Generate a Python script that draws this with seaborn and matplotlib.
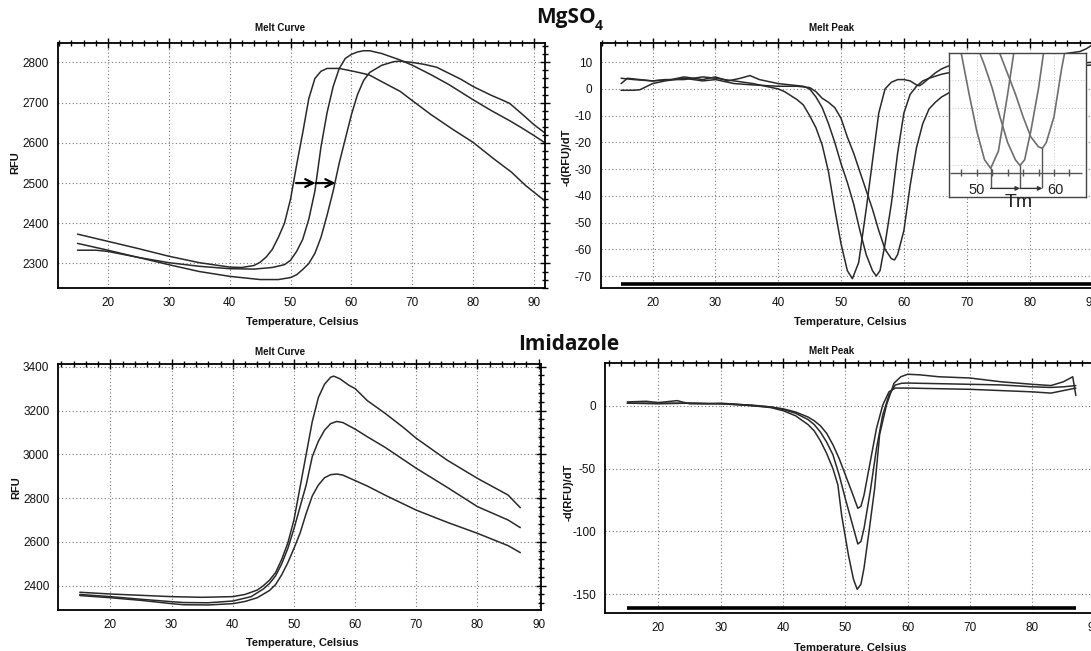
import numpy as np
import seaborn as sns
import matplotlib.pyplot as plt
from matplotlib import font_manager
from matplotlib.ticker import MultipleLocator

# ---- MgSO4 melt curve (RFU vs temperature) ----
mg_t_a = [15, 20, 25, 30, 35, 40, 42, 44, 45, 46, 47, 48, 49, 50, 51, 52, 53, 54, 55, 56, 58,
          60.6, 62.9, 65, 68, 70, 73, 76.6, 80, 83.4, 86.3, 88.6, 92]
mg_rfu_a = [2373, 2355, 2337, 2318, 2302, 2291, 2290, 2295, 2303, 2316, 2335, 2365, 2400, 2460,
            2545, 2625, 2710, 2760, 2778, 2785, 2785, 2777, 2769, 2752, 2728, 2705, 2671, 2634,
            2601, 2560, 2527, 2494, 2453]
mg_t_b = [15, 18, 20, 25, 30, 35, 40, 44, 47, 49, 50, 51, 52, 53, 54, 55, 56, 57, 58, 59, 60,
          61, 62, 63, 65, 68, 70, 73, 76, 80, 83, 86, 88, 90, 92]
mg_rfu_b = [2333, 2333, 2330, 2315, 2302, 2293, 2287, 2286, 2290, 2297, 2308, 2330, 2360, 2410,
            2480, 2590, 2675, 2740, 2785, 2810, 2820, 2826, 2829, 2829, 2822, 2806, 2793, 2770,
            2745, 2707, 2680, 2655, 2637, 2618, 2598]
mg_t_c = [15, 20, 25, 30, 35, 40, 45, 48, 50, 51, 52, 53, 54, 55, 56, 57, 58, 59, 60, 61, 62, 63,
          65, 67, 68, 70, 72, 74, 76, 78, 80, 83, 85, 86, 88, 90, 92]
mg_rfu_c = [2350, 2333, 2315, 2297, 2280, 2268, 2260, 2260, 2265, 2272, 2285, 2300, 2325, 2365,
            2420, 2480, 2550, 2610, 2670, 2720, 2755, 2775, 2793, 2802, 2803, 2800, 2795, 2788,
            2773, 2758, 2740, 2718, 2705, 2698, 2672, 2645, 2622]
mg_arrow_t = [50.9, 54.1, 57.4]
mg_arrow_rfu = 2500

# ---- MgSO4 melt peak (-d(RFU)/dT) ----
pk_t_a = [15, 16, 18, 20, 22, 25, 28, 30, 33, 36, 38, 40, 41, 42, 43, 44, 45, 46, 47, 48, 49, 50,
          51, 51.8, 52.8, 54, 55, 56, 57, 58, 59, 60, 61, 62, 62.5, 63, 64, 65, 66, 67, 68, 70,
          75, 80, 85, 88, 89, 90, 91, 92]
pk_v_a = [2, 4, 3.5, 3, 3.5, 3.5, 4.5, 4, 3, 2, 1, 0, -1, -2.5, -4, -6, -10, -14.5, -21, -31, -45,
          -58, -68, -71, -65, -45, -27, -9, 0, 2.5, 3.5, 3.5, 3, 1.5, 1.2, 2, 4, 6, 7.5, 8.5, 9,
          10, 11, 12, 13, 14, 15, 16.5, 15.5, 14]
pk_t_b = [15, 17, 20, 23, 25, 28, 30, 32, 34, 35.5, 37, 40, 42, 44, 45, 46, 47, 48, 49, 50, 51,
          52, 53, 54, 55, 55.6, 56.2, 57, 58, 59, 60, 61, 62, 63, 64, 66, 67, 70, 75, 80, 85, 90, 92]
pk_v_b = [4, 3.5, 3, 3.5, 4.5, 3.5, 4.5, 3, 4, 5, 3.5, 2, 1.5, 1, 0, -3, -7, -13, -20, -28, -35,
          -43, -53, -62, -68, -70, -68, -58, -43, -24, -9, -2, 1, 3, 4, 5.5, 6, 6.5, 7, 8, 9, 10, 10]
pk_t_c = [15, 17, 18, 20, 22, 25, 28, 30, 33, 36, 40, 43, 45, 46, 47, 48, 49, 50, 51, 52, 53, 54,
          55, 56, 57, 58, 58.5, 59, 60, 61, 62, 63, 64, 65, 66, 67, 68, 70, 75, 80, 85, 90, 92]
pk_v_c = [-0.5, -0.5, -0.3, 2, 3, 4, 3, 3.5, 2, 1.5, 1, 1, 0.5, -1, -3.5, -5, -7, -11, -18, -24,
          -31, -38, -45, -53, -60, -63.5, -64, -62, -53, -36, -22, -13, -7.5, -5, -3, -1.7, 0, 2,
          5, 7, 8, 9, 9]
pk_threshold = -73.1

# ---- Imidazole melt curve (RFU) ----
im_t_a = [15, 20, 25, 30, 35, 40, 42, 44, 45, 46, 47, 48, 49, 50, 51, 52, 53, 54, 55, 56, 56.5,
          57.5, 59, 60, 62, 65, 68, 70, 75, 80, 85, 87]
im_rfu_a = [2370, 2362, 2356, 2350, 2347, 2350, 2360, 2380, 2400, 2425, 2460, 2520, 2595, 2700,
            2850, 3000, 3150, 3260, 3320, 3352, 3357, 3345, 3315, 3300, 3245, 3185, 3120, 3073,
            2974, 2890, 2814, 2756]
im_t_b = [15, 20, 25, 30, 32, 36, 40, 43, 45, 46, 47, 48, 49, 50, 51, 52, 53, 54, 55, 56, 57, 58,
          60, 62, 65, 70, 75, 80, 85, 87]
im_rfu_b = [2360, 2350, 2338, 2327, 2323, 2322, 2330, 2350, 2385, 2410, 2445, 2500, 2570, 2660,
            2760, 2860, 2990, 3060, 3110, 3140, 3150, 3145, 3115, 3080, 3030, 2936, 2850, 2761,
            2700, 2665]
im_t_c = [15, 20, 25, 30, 32, 36, 40, 42, 44, 46, 47, 48, 49, 50, 51, 52, 53, 54, 55, 56, 57, 58,
          60, 62, 65, 70, 75, 80, 85, 87]
im_rfu_c = [2355, 2345, 2333, 2318, 2313, 2312, 2318, 2328, 2345, 2378, 2405, 2450, 2505, 2570,
            2640, 2730, 2810, 2860, 2893, 2907, 2910, 2905, 2880, 2855, 2812, 2745, 2690, 2639,
            2583, 2551]

# ---- Imidazole melt peak (-d(RFU)/dT) ----
ip_t_a = [15, 20, 25, 30, 35, 38, 40, 42, 44, 45, 46, 47, 48, 49, 50, 51, 52, 52.5, 53, 54, 55,
          56, 57, 58, 60, 65, 70, 75, 80, 83, 85, 87]
ip_v_a = [2, 1.5, 2, 1.5, 0.5, -1, -2.5, -5, -9, -12, -16, -22, -31, -42, -55, -68, -81.6, -80,
          -71, -44.5, -18, 0.5, 11, 14, 14, 13.5, 13, 12, 11, 10, 12, 14]
ip_t_b = [15, 20, 25, 30, 35, 38, 40, 42, 44, 45, 46, 47, 48, 49, 50, 51, 52, 52.5, 53, 54, 55,
          56, 57, 58, 59, 60, 65, 70, 75, 80, 83, 85, 87]
ip_v_b = [2, 2, 2, 1.5, 0, -1, -3, -6, -11, -15, -21, -29, -39, -55, -74, -92, -110, -108, -97.5,
          -68, -34, -7.4, 8.5, 16.4, 17.8, 18, 17.5, 17, 16.5, 15, 14.5, 15, 16]
ip_t_c = [15, 18, 20, 22, 23, 25, 28, 30, 33, 36, 38, 40, 42, 44, 45, 46, 47, 48, 48.8, 49.4,
          50.5, 51.3, 51.9, 52.5, 53, 53.8, 54.7, 55.5, 56.6, 57.8, 58.9, 60, 62, 65, 70, 75, 80,
          83, 85, 86.5, 87]
ip_v_c = [3, 3.5, 2.5, 3.5, 4, 1.5, 1.5, 2, 1, -0.5, -1.5, -4, -8, -15, -20, -28, -38, -50, -63,
          -87, -119, -138, -146, -142, -129, -100, -66, -23, 0.5, 17.8, 23, 25, 24.5, 23, 22, 19,
          17, 16, 19, 23, 8]
ip_threshold = -161

W, H = 1091, 651
LINE = '#2a2a2a'

try:
    font_manager.findfont('Liberation Sans Narrow', fallback_to_default=False)
    NARROW = ['Liberation Sans Narrow', 'DejaVu Sans']
    TICK_SIZE = 9.5
except Exception:
    NARROW = ['Liberation Sans', 'DejaVu Sans']
    TICK_SIZE = 8.5

sns.set_theme(style='white')
plt.rcParams['font.family'] = NARROW
plt.rcParams['axes.unicode_minus'] = False

fig = plt.figure(figsize=(W / 100, H / 100), dpi=100)
fig.patch.set_facecolor('white')


def box(l, t, r, b):
    return [l / W, 1 - b / H, (r - l) / W, (b - t) / H]


def style(ax, xlim, ylim, ymaj, ymin):
    ax.set_xlim(*xlim)
    ax.set_ylim(*ylim)
    ax.xaxis.set_major_locator(MultipleLocator(10))
    ax.xaxis.set_minor_locator(MultipleLocator(2))
    ax.yaxis.set_major_locator(MultipleLocator(ymaj))
    ax.yaxis.set_minor_locator(MultipleLocator(ymin))
    ax.grid(True, which='major', color='#7a7a7a', linestyle=(0, (1, 2.2)), linewidth=0.8)
    ax.tick_params(which='both', direction='inout', top=True, right=True,
                   color='black', width=1.0, labelsize=TICK_SIZE, labelcolor='#111111')
    ax.tick_params(which='major', length=7, pad=3)
    ax.tick_params(which='minor', length=4)
    for s in ax.spines.values():
        s.set_linewidth(1.3)
        s.set_color('black')
    ax.set_xlabel('')
    ax.set_ylabel('')


def curve(ax, t, v, color=LINE, lw=1.1):
    sns.lineplot(x=t, y=v, ax=ax, color=color, linewidth=lw, estimator=None, sort=False)


# top left: MgSO4 melt curve
ax_tl = fig.add_axes(box(58, 42.7, 545, 288))
curve(ax_tl, mg_t_a, mg_rfu_a)
curve(ax_tl, mg_t_b, mg_rfu_b)
curve(ax_tl, mg_t_c, mg_rfu_c)
style(ax_tl, (11.8, 91.8), (2239, 2849), 100, 20)
for x0, x1 in zip(mg_arrow_t[:-1], mg_arrow_t[1:]):
    ax_tl.annotate('', xy=(x1, mg_arrow_rfu), xytext=(x0, mg_arrow_rfu),
                   arrowprops=dict(arrowstyle='->', lw=1.6, color='black', mutation_scale=14,
                                   shrinkA=0, shrinkB=0))

# top right: MgSO4 melt peak
ax_tr = fig.add_axes(box(601, 42.7, 1105, 288.3))
curve(ax_tr, pk_t_a, pk_v_a)
curve(ax_tr, pk_t_b, pk_v_b)
curve(ax_tr, pk_t_c, pk_v_c)
ax_tr.hlines(pk_threshold, 15, 92, color='black', linewidth=2.6)
style(ax_tr, (11.8, 92), (-74.6, 17.3), 10, 2)

# inset with Tm shift
ax_in = fig.add_axes(box(949, 52.7, 1086.4, 196.7))
ax_in.set_zorder(5)
ax_in.set_facecolor('white')
for t, v in [(pk_t_a, pk_v_a), (pk_t_b, pk_v_b), (pk_t_c, pk_v_c)]:
    curve(ax_in, t, v, color='#6e6e6e', lw=1.2)
ax_in.set_xlim(46.4, 64.2)
ax_in.set_ylim(-80.9, -30.6)
ax_in.set_xticks([50, 60])
ax_in.set_yticks([-70, -60, -50, -40])
ax_in.tick_params(length=0, labelbottom=False, labelleft=False)
ax_in.grid(True, color='#c4c4c4', linestyle=(0, (1, 2)), linewidth=0.7)
for s in ax_in.spines.values():
    s.set_linewidth(1.0)
    s.set_color('#444444')
ax_in.hlines(-72.5, 46.5, 63.6, color='#555555', linewidth=1.0)
ax_in.vlines(np.arange(48, 63, 2), -73.8, -71.2, color='#555555', linewidth=1.0)
tms = [t[int(np.argmin(v))] for t, v in [(pk_t_a, pk_v_a), (pk_t_b, pk_v_b), (pk_t_c, pk_v_c)]]
mins = [min(v) for v in (pk_v_a, pk_v_b, pk_v_c)]
ax_in.vlines(tms, -78, mins, color='#555555', linewidth=1.0)
for x0, x1 in zip(tms[:-1], tms[1:]):
    ax_in.annotate('', xy=(x1, -78), xytext=(x0, -78),
                   arrowprops=dict(arrowstyle='-|>', lw=1.0, color='#333333', mutation_scale=6,
                                   shrinkA=0, shrinkB=0))
ax_in.text(50, -78.4, '50', ha='center', va='center', fontsize=10.5, color='#222222')
ax_in.text(60.2, -78.4, '60', ha='center', va='center', fontsize=10.5, color='#222222')
ax_in.text(55.4, -82.8, 'Tm', ha='center', va='center', fontsize=14, color='#222222', clip_on=False)

# bottom left: Imidazole melt curve
ax_bl = fig.add_axes(box(58.4, 364.3, 540.5, 610))
curve(ax_bl, im_t_a, im_rfu_a)
curve(ax_bl, im_t_b, im_rfu_b)
curve(ax_bl, im_t_c, im_rfu_c)
style(ax_bl, (11.5, 90.3), (2289, 3411), 200, 40)

# bottom right: Imidazole melt peak
ax_br = fig.add_axes(box(604.9, 363.3, 1107, 613.3))
curve(ax_br, ip_t_a, ip_v_a)
curve(ax_br, ip_t_b, ip_v_b)
curve(ax_br, ip_t_c, ip_v_c)
ax_br.hlines(ip_threshold, 15, 87, color='black', linewidth=2.6)
style(ax_br, (11.4, 92), (-165.1, 33.7), 50, 10)


# texts
def ftext(px, py, s, **kw):
    fig.text(px / W, 1 - py / H, s, ha='center', va='center', **kw)


small = dict(fontsize=7, fontweight='bold', color='#111111')
ftext(280, 28, 'Melt Curve', **small)
ftext(832, 28, 'Melt Peak', **small)
ftext(280, 352, 'Melt Curve', **small)
ftext(832, 351, 'Melt Peak', **small)
lab = dict(fontsize=8, fontweight='bold', color='#111111')
ftext(302, 322, 'Temperature, Celsius', **lab)
ftext(850, 322, 'Temperature, Celsius', **lab)
ftext(302, 643, 'Temperature, Celsius', **lab)
ftext(850, 648, 'Temperature, Celsius', **lab)
ftext(15, 163, 'RFU', rotation=90, **lab)
ftext(16, 488, 'RFU', rotation=90, **lab)
ftext(567, 157, '-d(RFU)/dT', rotation=90, **lab)
ftext(569, 492, '-d(RFU)/dT', rotation=90, **lab)

big = dict(fontsize=15, fontweight='bold', color='#111111', family=['Open Sans', 'DejaVu Sans'])
fig.text(536 / W, 1 - 18 / H, 'MgSO', ha='left', va='center', **big)
fig.text(595 / W, 1 - 26 / H, '4', ha='left', va='center', fontsize=10, fontweight='bold',
         color='#111111', family=['Open Sans', 'DejaVu Sans'])
ftext(569, 345, 'Imidazole', **big)

fig.savefig('out.png', dpi=100, facecolor='white')
